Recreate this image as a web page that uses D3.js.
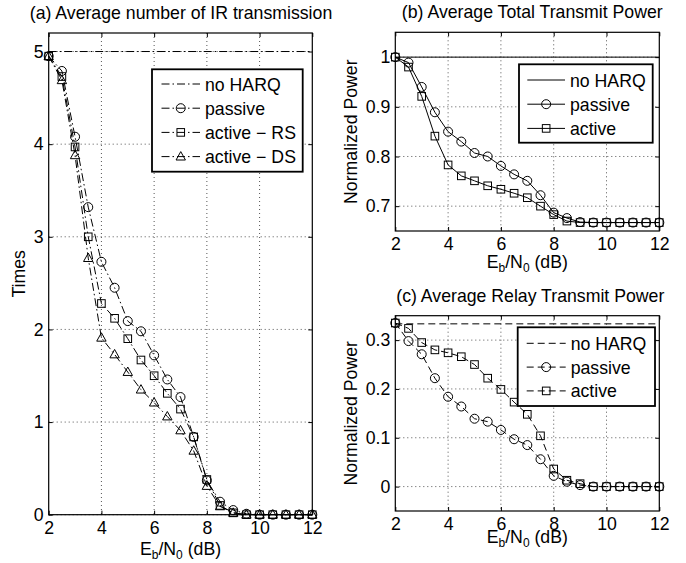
<!DOCTYPE html>
<html lang="en">
<head>
  <meta charset="UTF-8">
  <title>HARQ comparison</title>
  <script src="https://d3js.org/d3.v7.min.js"></script>
  <style>
    body { margin: 0; background: #fff; }
    svg text { font-family: "Liberation Sans", Arial, Helvetica, sans-serif; fill: #000; }
  </style>
</head>
<body>
<div class="main"></div>
<script>

  // x axis values (Eb/N0 in dB)
  var ebn0 = [2, 2.5, 3, 3.5, 4, 4.5, 5, 5.5, 6, 6.5, 7, 7.5, 8, 8.5, 9, 9.5, 10, 10.5, 11, 11.5, 12];
  var xTicks = [2, 4, 6, 8, 10, 12];

  // (a) average number of IR transmissions
  var timesNoHarq = 5;
  var timesPassive = [4.95, 4.79, 4.08, 3.32, 2.73, 2.45, 2.09, 1.98, 1.72, 1.46, 1.27, 0.84, 0.37, 0.14, 0.05, 0.01, 0, 0, 0, 0, 0];
  var timesActiveRS = [4.95, 4.73, 3.97, 3.0, 2.28, 2.12, 1.90, 1.67, 1.50, 1.31, 1.14, 0.84, 0.38, 0.10, 0.02, 0, 0, 0, 0, 0, 0];
  var timesActiveDS = [4.95, 4.69, 3.88, 2.77, 1.91, 1.73, 1.54, 1.35, 1.21, 1.06, 0.91, 0.69, 0.31, 0.09, 0.02, 0, 0, 0, 0, 0, 0];
  var timesTicks = [0, 1, 2, 3, 4, 5];

  // (b) average total transmit power
  var totalNoHarq = 1;
  var totalPassive = [1.0, 0.989, 0.940, 0.889, 0.850, 0.830, 0.807, 0.800, 0.781, 0.764, 0.751, 0.722, 0.687, 0.676, 0.668, 0.667, 0.667, 0.667, 0.667, 0.667, 0.667];
  var totalActive = [1.0, 0.980, 0.921, 0.841, 0.783, 0.761, 0.751, 0.741, 0.734, 0.726, 0.717, 0.700, 0.683, 0.670, 0.667, 0.667, 0.667, 0.667, 0.667, 0.667, 0.667];
  var totalTicks = [0.7, 0.8, 0.9, 1];

  // (c) average relay transmit power
  var relayNoHarq = 0.3333;
  var relayPassive = [0.335, 0.298, 0.271, 0.222, 0.184, 0.164, 0.139, 0.133, 0.116, 0.097, 0.085, 0.056, 0.022, 0.010, 0.003, 0, 0, 0, 0, 0, 0];
  var relayActive = [0.335, 0.324, 0.295, 0.280, 0.274, 0.266, 0.250, 0.222, 0.199, 0.173, 0.148, 0.104, 0.036, 0.013, 0.006, 0, 0, 0, 0, 0, 0];
  var relayTicks = [0, 0.1, 0.2, 0.3];

  var width = 686, height = 563;
  var DASHDOT = "8,3,1.5,3", DASHED = "7,4";
  var FS = "17.7px";

  var svg = d3.select(".main").append("svg")
          .attr("width", width)
          .attr("height", height);

  function marker(g, type, x, y) {
    if (type == "circle") {
      g.append("circle").attr("cx", x).attr("cy", y).attr("r", 4.5)
              .attr("fill", "none").attr("stroke", "#000").attr("stroke-width", 1);
    } else if (type == "square") {
      g.append("rect").attr("x", x - 3.8).attr("y", y - 3.8).attr("width", 7.6).attr("height", 7.6)
              .attr("fill", "none").attr("stroke", "#000").attr("stroke-width", 1);
    } else if (type == "triangle") {
      g.append("path").attr("d", `M${x},${y - 5}L${x + 4.7},${y + 3.4}L${x - 4.7},${y + 3.4}Z`)
              .attr("fill", "none").attr("stroke", "#000").attr("stroke-width", 1);
    }
  }

  function xLabel(g, cx, y) {
    var t = g.append("text").attr("x", cx).attr("y", y).attr("text-anchor", "middle").style("font-size", FS);
    t.append("tspan").text("E");
    t.append("tspan").attr("dy", 4).style("font-size", "12px").text("b");
    t.append("tspan").attr("dy", -4).text("/N");
    t.append("tspan").attr("dy", 4).style("font-size", "12px").text("0");
    t.append("tspan").attr("dy", -4).text(" (dB)");
  }

  function drawPanel(p) {
    var g = svg.append("g");
    var xScale = d3.scaleLinear().domain([2, 12]).range([p.left, p.right]);
    var yScale = d3.scaleLinear().domain(p.yDomain).range([p.bottom, p.top]);

    // dotted grid
    g.selectAll(".gx").data(xTicks.slice(1, -1)).join("line")
            .attr("x1", d => xScale(d)).attr("x2", d => xScale(d))
            .attr("y1", p.top).attr("y2", p.bottom)
            .attr("stroke", "#555").attr("stroke-dasharray", "1,3").attr("stroke-width", 1);
    g.selectAll(".gy").data(p.yTicks).join("line")
            .attr("x1", p.left).attr("x2", p.right)
            .attr("y1", d => yScale(d)).attr("y2", d => yScale(d))
            .attr("stroke", "#555").attr("stroke-dasharray", "1,3").attr("stroke-width", 1);

    // axes with inward ticks on all four sides
    var xAxis = d3.axisBottom(xScale).tickValues(xTicks).tickSize(-4).tickPadding(6.5).tickFormat(d3.format("d"));
    var yAxis = d3.axisLeft(yScale).tickValues(p.yTicks).tickSize(-4).tickPadding(5).tickFormat(p.fmt);
    g.append("g").attr("transform", `translate(0,${p.bottom})`).call(xAxis);
    g.append("g").attr("transform", `translate(${p.left},0)`).call(yAxis);
    g.append("g").attr("transform", `translate(0,${p.top})`)
            .call(d3.axisTop(xScale).tickValues(xTicks).tickSize(-4).tickFormat(""));
    g.append("g").attr("transform", `translate(${p.right},0)`)
            .call(d3.axisRight(yScale).tickValues(p.yTicks).tickSize(-4).tickFormat(""));
    g.selectAll(".domain").remove();
    g.selectAll(".tick text").style("font-size", FS).attr("fill", "#000");
    g.selectAll(".tick line").attr("stroke", "#000");

    // reference line (no HARQ)
    g.append("line")
            .attr("x1", xScale(2)).attr("x2", xScale(12))
            .attr("y1", yScale(p.ref)).attr("y2", yScale(p.ref))
            .attr("stroke", "#000").attr("stroke-width", 1)
            .attr("stroke-dasharray", p.dash);

    var line = d3.line().x((d, i) => xScale(ebn0[i])).y(d => yScale(d));
    p.series.forEach(function (s) {
      g.append("path").datum(s.values).attr("d", line)
              .attr("fill", "none").attr("stroke", "#000").attr("stroke-width", 1)
              .attr("stroke-dasharray", p.dash);
      s.values.forEach(function (v, i) { marker(g, s.mark, xScale(ebn0[i]), yScale(v)); });
    });

    // box
    g.append("rect").attr("x", p.left).attr("y", p.top)
            .attr("width", p.right - p.left).attr("height", p.bottom - p.top)
            .attr("fill", "none").attr("stroke", "#000").attr("stroke-width", 1.2);

    // titles / labels
    g.append("text").attr("x", (p.left + p.right) / 2 + p.titleDx).attr("y", p.top - 14)
            .attr("text-anchor", "middle").style("font-size", FS).text(p.title);
    xLabel(g, (p.left + p.right) / 2, p.bottom + p.xlabOff);
    g.append("text").attr("transform", `translate(${p.ylabX},${(p.top + p.bottom) / 2}) rotate(-90)`)
            .attr("text-anchor", "middle").style("font-size", FS).text(p.ylab);

    // legend
    var L = p.legend;
    var items = [{label: "no HARQ", mark: null}].concat(p.series);
    g.append("rect").attr("x", L.x).attr("y", L.y).attr("width", L.w).attr("height", L.h)
            .attr("fill", "#fff").attr("stroke", "#000").attr("stroke-width", 1.8);
    items.forEach(function (it, i) {
      var yy = L.y + L.first + i * L.step;
      g.append("line").attr("x1", L.x + L.l0).attr("x2", L.x + L.l1)
              .attr("y1", yy).attr("y2", yy)
              .attr("stroke", "#000").attr("stroke-width", 1).attr("stroke-dasharray", p.dash);
      if (it.mark) marker(g, it.mark, L.x + (L.l0 + L.l1) / 2, yy);
      g.append("text").attr("x", L.x + L.l1 + 5).attr("y", yy + 6.5)
              .style("font-size", FS).text(it.label);
    });
  }

  drawPanel({
    left: 48.7, right: 312.3, top: 33, bottom: 514.7,
    yDomain: [0, 5.2], yTicks: timesTicks, fmt: d3.format("d"),
    ref: timesNoHarq, dash: DASHDOT, titleDx: 0.5, xlabOff: 40.5,
    title: "(a) Average number of IR transmission", ylab: "Times", ylabX: 25,
    series: [
      {label: "passive", mark: "circle", values: timesPassive},
      {label: "active \u2212 RS", mark: "square", values: timesActiveRS},
      {label: "active \u2212 DS", mark: "triangle", values: timesActiveDS}
    ],
    legend: {x: 152, y: 69.3, w: 150.7, h: 102.4, first: 14.7, step: 24.2, l0: 9.5, l1: 48}
  });

  drawPanel({
    left: 395.3, right: 659.3, top: 32.3, bottom: 231,
    yDomain: [0.65, 1.05], yTicks: totalTicks, fmt: d => d == 1 ? "1" : d3.format(".1f")(d),
    ref: totalNoHarq, dash: null, titleDx: 5, xlabOff: 37,
    title: "(b) Average Total Transmit Power", ylab: "Normalized Power", ylabX: 357,
    series: [
      {label: "passive", mark: "circle", values: totalPassive},
      {label: "active", mark: "square", values: totalActive}
    ],
    legend: {x: 519, y: 64.3, w: 133.7, h: 78.4, first: 15.7, step: 24.2, l0: 8.3, l1: 46}
  });

  drawPanel({
    left: 395.3, right: 659.3, top: 315.7, bottom: 511,
    yDomain: [-0.05, 0.35], yTicks: relayTicks, fmt: d => d == 0 ? "0" : d3.format(".1f")(d),
    ref: relayNoHarq, dash: DASHED, titleDx: 3, xlabOff: 32,
    title: "(c) Average Relay Transmit Power", ylab: "Normalized Power", ylabX: 357,
    series: [
      {label: "passive", mark: "circle", values: relayPassive},
      {label: "active", mark: "square", values: relayActive}
    ],
    legend: {x: 517.7, y: 327.3, w: 137.3, h: 78.7, first: 16, step: 23.8, l0: 9, l1: 48}
  });

</script>
</body>
</html>
